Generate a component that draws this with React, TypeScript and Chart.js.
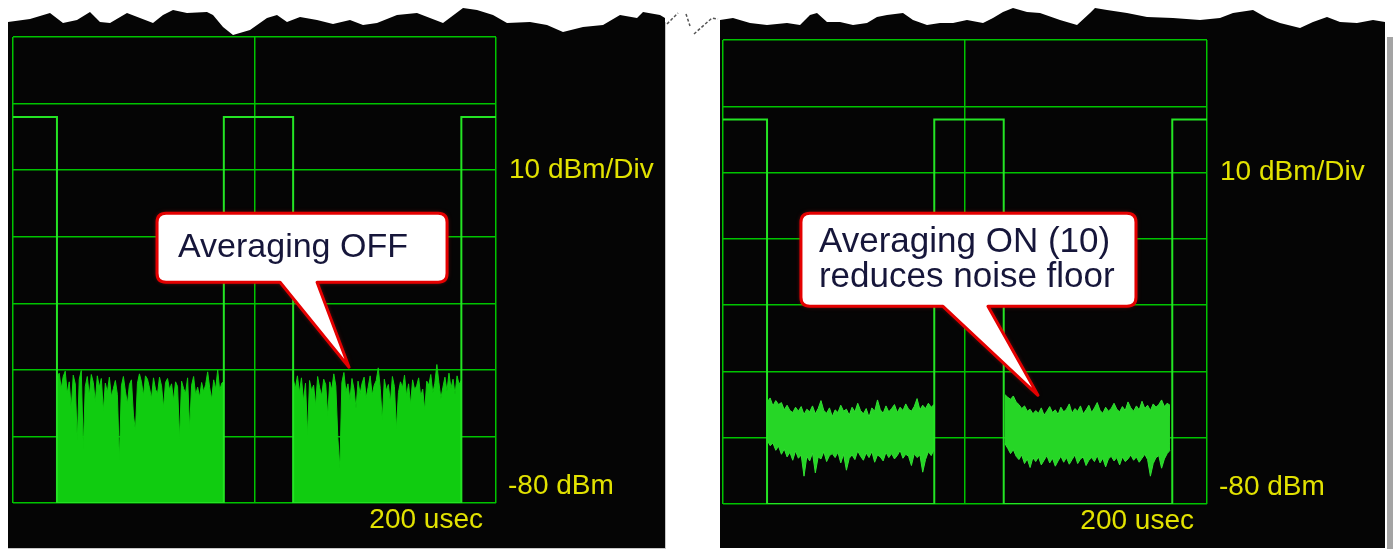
import React, { useEffect, useRef } from "react";
import { Chart, registerables } from "chart.js";

Chart.register(...registerables);

// ---- axes (time in usec, level in dBm, 10 dBm/div) ----
const timeMin = 0;
const timeMax = 400;
const timeStep = 200;
const levelMin = -80;
const levelMax = -10;
const levelStep = 10;

// ---- gate signal (square wave): level reached at each transition time ----
const gateTimes = [0, 36.4, 174.6, 232.0, 371.3, 400];
const gateLevels = [-22, -80, -22, -80, -22, -22];

// ---- Averaging OFF: noise blocks (top of trace, dBm) ----
const offBlock1Span = [36.6, 174.5];
const offBlock1 = [
  -61.2, -60.5, -62.8, -61.0, -60.2, -63.5, -61.8, -65.9, -60.8, -62.1,
  -70.6, -61.4, -60.1, -72.0, -62.5, -61.0, -63.9, -60.7, -61.9, -64.8,
  -60.9, -62.6, -61.3, -66.2, -62.0, -63.4, -61.1, -64.0, -62.8, -61.6,
  -63.7, -73.6, -62.4, -61.0, -63.2, -65.1, -62.2, -61.5, -66.8, -69.1,
  -62.0, -60.6, -61.8, -63.9, -60.9, -61.4, -62.7, -64.3, -61.2, -62.9,
  -63.6, -61.1, -62.4, -65.7, -61.9, -61.3, -63.0, -62.1, -64.6, -61.8,
  -62.5, -70.4, -61.7, -62.8, -63.5, -61.2, -68.9, -62.3, -61.0, -63.8,
  -62.6, -64.1, -61.9, -63.3, -62.2, -60.3, -62.7, -64.4, -61.5, -62.9,
  -60.0, -63.1, -62.0, -61.8,
];
const offBlock2Span = [232.2, 371.1];
const offBlock2 = [
  -61.5, -62.8, -60.9, -63.4, -61.2, -64.7, -62.0, -69.8, -61.6, -63.1,
  -62.3, -65.4, -61.0, -62.7, -63.9, -61.4, -62.2, -66.9, -61.8, -63.0,
  -60.6, -62.4, -70.2, -74.8, -61.9, -60.4, -63.3, -62.1, -64.5, -61.3,
  -62.9, -65.8, -61.7, -63.6, -62.0, -61.1, -64.2, -62.6, -60.9, -63.8,
  -62.3, -61.6, -59.7, -62.8, -67.6, -61.4, -63.1, -62.2, -64.9, -61.0,
  -62.5, -68.9, -63.4, -61.8, -62.7, -60.8, -63.9, -62.1, -65.2, -61.5,
  -63.0, -62.4, -61.2, -64.0, -62.9, -66.1, -61.7, -62.3, -60.7, -63.5,
  -62.0, -59.2, -61.9, -64.3, -62.6, -61.1, -63.2, -60.5, -62.8, -61.4,
  -63.7, -60.9, -62.2, -61.6,
];

// ---- Averaging ON (10): noise band (upper / lower edge, dBm) ----
const onBlock1Span = [36.6, 174.4];
const onBlock1Upper = [
  -64.6, -64.0, -65.2, -64.4, -65.0, -64.7, -65.8, -65.1, -65.9, -66.2,
  -65.4, -66.0, -65.3, -66.5, -65.7, -66.1, -65.2, -66.4, -65.6, -64.4,
  -65.9, -66.3, -65.5, -66.8, -65.8, -66.2, -65.1, -66.0, -65.7, -66.6,
  -65.4, -66.1, -64.8, -65.9, -66.4, -65.6, -66.9, -65.5, -66.0, -64.3,
  -65.8, -66.3, -65.2, -66.1, -65.6, -65.0, -66.2, -65.4, -65.9, -64.9,
  -65.7, -66.0, -65.3, -64.1, -65.8, -65.1, -65.6, -64.8, -65.4, -65.0,
];
const onBlock1Lower = [
  -70.4, -71.2, -70.8, -71.9, -71.3, -72.5, -71.7, -72.9, -72.2, -73.4,
  -72.0, -73.1, -72.6, -75.8, -72.8, -73.5, -72.3, -75.3, -72.9, -73.2,
  -72.1, -73.6, -72.7, -72.4, -73.0, -72.2, -73.8, -72.5, -74.9, -73.1,
  -72.6, -73.3, -72.0, -72.8, -73.4, -72.3, -73.0, -72.1, -73.7, -72.6,
  -72.9, -73.5, -72.2, -73.0, -72.4, -73.2, -72.7, -71.9, -73.1, -72.5,
  -72.8, -74.2, -72.4, -73.0, -72.6, -75.2, -73.3, -72.1, -72.7, -71.8,
];
const onBlock2Span = [233.0, 369.4];
const onBlock2Upper = [
  -63.5, -63.9, -64.2, -63.7, -64.6, -65.0, -65.6, -65.2, -66.0, -65.7,
  -66.4, -65.9, -66.3, -65.5, -66.6, -66.0, -65.3, -66.2, -65.8, -66.5,
  -65.4, -66.1, -65.7, -64.9, -66.3, -65.6, -66.0, -65.2, -66.4, -65.8,
  -65.1, -66.2, -65.5, -64.7, -65.9, -66.3, -65.4, -66.0, -65.6, -64.8,
  -65.7, -66.1, -65.3, -65.9, -64.6, -65.5, -66.0, -65.2, -65.8, -64.5,
  -65.6, -65.1, -65.9, -64.9, -65.4, -65.0, -64.3, -65.3, -64.8, -65.1,
];
const onBlock2Lower = [
  -70.9, -71.6, -72.4, -71.8, -72.8, -73.3, -72.6, -73.9, -73.2, -74.5,
  -73.0, -73.6, -72.9, -74.1, -73.4, -72.7, -73.8, -73.1, -74.3, -73.5,
  -72.8, -73.7, -73.0, -74.0, -73.3, -72.6, -73.9, -73.2, -72.9, -74.2,
  -73.4, -73.0, -73.6, -72.7, -73.8, -73.1, -74.4, -73.2, -72.8, -73.5,
  -73.0, -74.1, -72.9, -73.6, -73.2, -72.6, -73.4, -72.9, -73.7, -73.1,
  -72.5, -73.3, -75.8, -73.9, -73.0, -72.7, -74.6, -73.2, -72.4, -71.9,
];

// ---- texts ----
const scaleLabel = "10 dBm/Div";
const refLabel = "-80 dBm";
const sweepLabel = "200 usec";
const offCallout = ["Averaging OFF"];
const onCallout = ["Averaging ON (10)", "reduces noise floor"];

// ---- decoration: torn paper edge (page coords) ----
const tornLeft = [
  [8, 22], [30, 19], [50, 13], [63, 23], [77, 20], [90, 12], [100, 22], [110, 23],
  [127, 13], [140, 18], [153, 23], [163, 15], [173, 10], [187, 13], [207, 12],
  [213, 15], [223, 27], [233, 35], [250, 30], [267, 18], [277, 15], [287, 22],
  [300, 17], [317, 20], [333, 24], [350, 20], [363, 25], [377, 23], [397, 15],
  [417, 13], [430, 18], [443, 23], [463, 8], [477, 10], [493, 15], [507, 23],
  [530, 22], [547, 25], [563, 32], [583, 27], [603, 25], [620, 15], [637, 18],
  [643, 12], [660, 15], [665, 18],
];
const tornRight = [
  [720, 20], [733, 18], [750, 23], [767, 25], [787, 23], [800, 25], [810, 15],
  [817, 13], [827, 22], [840, 22], [853, 25], [867, 23], [877, 17], [887, 15],
  [903, 13], [913, 20], [927, 25], [940, 23], [953, 23], [967, 20], [983, 23],
  [993, 18], [1003, 12], [1013, 8], [1027, 12], [1040, 13], [1060, 20], [1077, 25],
  [1090, 13], [1095, 8], [1107, 10], [1127, 13], [1147, 17], [1173, 18], [1200, 20],
  [1220, 18], [1233, 13], [1253, 10], [1267, 18], [1280, 23], [1300, 28], [1313, 22],
  [1327, 17], [1340, 22], [1357, 23], [1373, 20], [1385, 22],
];

const GRID = "#00c400";
const GATE = "#24e424";
const YELLOW = "#e2e200";

function spread(span: number[], values: number[]) {
  const n = values.length;
  return values.map((v, i) => ({ x: span[0] + ((span[1] - span[0]) * i) / (n - 1), y: v }));
}

function gateData() {
  return gateTimes.map((t, i) => ({ x: t, y: gateLevels[i] }));
}

type CalloutCfg = {
  tipT: number; tipDb: number; dx: number; dy: number; w: number; h: number;
  baseL: number; baseR: number; lines: string[]; font: number; textDx: number; textDy: number; lineH: number;
};

function drawCallout(ctx: CanvasRenderingContext2D, tx: number, ty: number, c: CalloutCfg) {
  const l = tx + c.dx, t = ty + c.dy, r = l + c.w, b = t + c.h, rad = 9;
  ctx.save();
  ctx.beginPath();
  ctx.moveTo(l + rad, t);
  ctx.lineTo(r - rad, t);
  ctx.quadraticCurveTo(r, t, r, t + rad);
  ctx.lineTo(r, b - rad);
  ctx.quadraticCurveTo(r, b, r - rad, b);
  ctx.lineTo(tx + c.baseR, b);
  ctx.lineTo(tx, ty);
  ctx.lineTo(tx + c.baseL, b);
  ctx.lineTo(l + rad, b);
  ctx.quadraticCurveTo(l, b, l, b - rad);
  ctx.lineTo(l, t + rad);
  ctx.quadraticCurveTo(l, t, l + rad, t);
  ctx.closePath();
  ctx.shadowColor = "rgba(255,40,40,0.55)";
  ctx.shadowBlur = 5;
  ctx.fillStyle = "#ffffff";
  ctx.fill();
  ctx.shadowBlur = 0;
  ctx.lineWidth = 3;
  ctx.lineJoin = "round";
  ctx.strokeStyle = "#e40000";
  ctx.stroke();
  ctx.fillStyle = "#16163a";
  ctx.font = `${c.font}px "Liberation Sans", Arial, sans-serif`;
  ctx.textBaseline = "alphabetic";
  ctx.textAlign = "left";
  c.lines.forEach((s, i) => ctx.fillText(s, l + c.textDx, t + c.textDy + i * c.lineH));
  ctx.restore();
}

type PanelProps = {
  left: number; width: number; height: number;
  padding: { left: number; right: number; top: number; bottom: number };
  torn: number[][]; datasets: any[]; callout: CalloutCfg;
};

function Panel(p: PanelProps) {
  const ref = useRef<HTMLCanvasElement | null>(null);
  useEffect(() => {
    if (!ref.current) return;
    const bgPlugin = {
      id: "paper",
      beforeDraw(chart: any) {
        const ctx = chart.ctx as CanvasRenderingContext2D;
        ctx.save();
        ctx.fillStyle = "#ffffff";
        ctx.fillRect(0, 0, chart.width, chart.height);
        ctx.beginPath();
        ctx.moveTo(0, chart.height);
        p.torn.forEach(([x, y]) => ctx.lineTo(x - p.left, y));
        ctx.lineTo(chart.width, p.torn[p.torn.length - 1][1]);
        ctx.lineTo(chart.width, chart.height);
        ctx.closePath();
        ctx.fillStyle = "#050505";
        ctx.fill();
        ctx.restore();
      },
    };
    const labelPlugin = {
      id: "labels",
      afterDraw(chart: any) {
        const ctx = chart.ctx as CanvasRenderingContext2D;
        const a = chart.chartArea;
        const ys = chart.scales.y;
        const xs = chart.scales.x;
        ctx.save();
        ctx.fillStyle = YELLOW;
        ctx.font = '28px "Liberation Sans", Arial, sans-serif';
        ctx.textBaseline = "middle";
        ctx.textAlign = "left";
        ctx.fillText(scaleLabel, a.right + 13, ys.getPixelForValue(-30));
        ctx.fillText(refLabel, a.right + 12, a.bottom - 17);
        ctx.textAlign = "right";
        ctx.fillText(sweepLabel, a.right - 13, a.bottom + 17);
        ctx.restore();
        drawCallout(ctx, xs.getPixelForValue(p.callout.tipT), ys.getPixelForValue(p.callout.tipDb), p.callout);
      },
    };
    const chart = new Chart(ref.current, {
      type: "line",
      data: { datasets: p.datasets },
      options: {
        animation: false,
        responsive: false,
        events: [],
        layout: { padding: p.padding, autoPadding: false },
        plugins: { legend: { display: false }, tooltip: { enabled: false }, title: { display: false } },
        elements: { point: { radius: 0 }, line: { tension: 0 } },
        scales: {
          x: {
            type: "linear", min: timeMin, max: timeMax,
            ticks: { display: false, stepSize: timeStep },
            grid: { color: GRID, lineWidth: 1.5, drawTicks: false },
            border: { display: false },
          },
          y: {
            type: "linear", min: levelMin, max: levelMax,
            ticks: { display: false, stepSize: levelStep },
            grid: { color: GRID, lineWidth: 1.5, drawTicks: false },
            border: { display: false },
          },
        },
      } as any,
      plugins: [bgPlugin, labelPlugin],
    });
    return () => chart.destroy();
  }, []);
  return (
    <canvas
      ref={ref}
      width={p.width}
      height={p.height}
      style={{ position: "absolute", left: p.left, top: 0, width: p.width, height: p.height }}
    />
  );
}

const gateDs = () => ({
  data: gateData(), stepped: "before", borderColor: GATE, borderWidth: 2, fill: false, order: 0,
});

const leftDatasets = [
  gateDs(),
  { data: spread(offBlock1Span, offBlock1), borderColor: "#10cc10", backgroundColor: "#10cc10", borderWidth: 1, fill: "start", order: 1 },
  { data: spread(offBlock2Span, offBlock2), borderColor: "#10cc10", backgroundColor: "#10cc10", borderWidth: 1, fill: "start", order: 1 },
];

const ON_FILL = "#26d626";
const rightDatasets = [
  gateDs(),
  { data: spread(onBlock1Span, onBlock1Upper), borderColor: "#33e033", borderWidth: 1, fill: false, order: 1 },
  { data: spread(onBlock1Span, onBlock1Lower), borderColor: "#33e033", backgroundColor: ON_FILL, borderWidth: 1, fill: 1, order: 1 },
  { data: spread(onBlock2Span, onBlock2Upper), borderColor: "#33e033", borderWidth: 1, fill: false, order: 1 },
  { data: spread(onBlock2Span, onBlock2Lower), borderColor: "#33e033", backgroundColor: ON_FILL, borderWidth: 1, fill: 3, order: 1 },
];

const leftCallout: CalloutCfg = {
  tipT: 278.3, tipDb: -59.6, dx: -192, dy: -154, w: 290, h: 69, baseL: -69, baseR: -32,
  lines: offCallout, font: 34, textDx: 21, textDy: 44, lineH: 35,
};
const rightCallout: CalloutCfg = {
  tipT: 260.3, tipDb: -63.6, dx: -237, dy: -182, w: 335, h: 93, baseL: -95, baseR: -50,
  lines: onCallout, font: 35, textDx: 18, textDy: 39, lineH: 35,
};

export default function App() {
  return (
    <div style={{ position: "fixed", left: 0, top: 0, width: 1395, height: 550, background: "#ffffff", overflow: "hidden" }}>
      <Panel
        left={8} width={657} height={548}
        padding={{ left: 5, right: 169, top: 37, bottom: 45 }}
        torn={tornLeft} datasets={leftDatasets} callout={leftCallout}
      />
      <Panel
        left={720} width={665} height={548}
        padding={{ left: 3, right: 178, top: 40, bottom: 44 }}
        torn={tornRight} datasets={rightDatasets} callout={rightCallout}
      />
      <div style={{ position: "absolute", left: 8, top: 548, width: 658, height: 1, background: "#c8c8c8" }} />
      <div style={{ position: "absolute", left: 665, top: 22, width: 1, height: 527, background: "#c8c8c8" }} />
      <div style={{ position: "absolute", left: 1387, top: 37, width: 6, height: 512, background: "#a4a4a4" }} />
      <svg style={{ position: "absolute", left: 660, top: 0 }} width={65} height={45}>
        <polyline points="7,24 18,13" fill="none" stroke="#555" strokeWidth={1.5} strokeDasharray="3,2" />
        <polyline points="26,14 30,26" fill="none" stroke="#555" strokeWidth={1.5} strokeDasharray="3,2" />
        <polyline points="34,34 52,18 58,19" fill="none" stroke="#555" strokeWidth={1.5} strokeDasharray="3,2" />
      </svg>
    </div>
  );
}
